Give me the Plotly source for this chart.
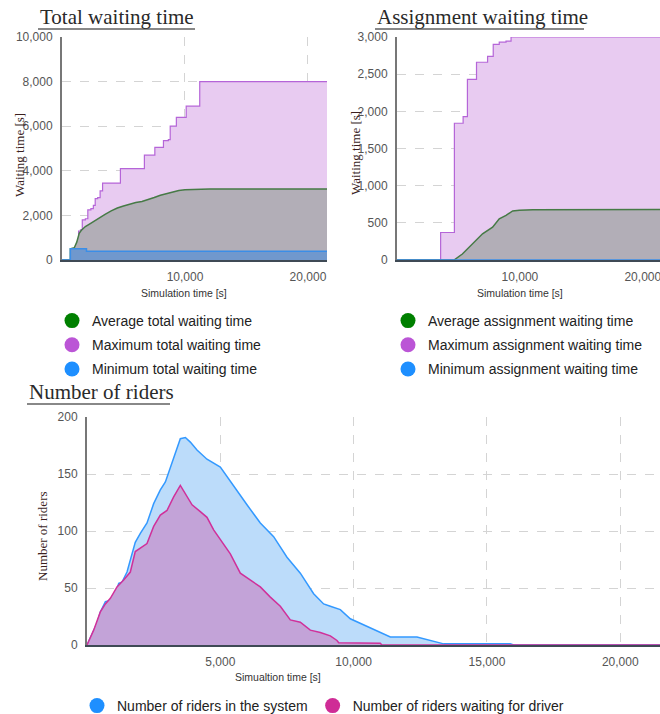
import plotly.graph_objects as go

W, H = 660, 714

# ---- Total waiting time [s] vs simulation time [s]
tot_max_t = [0, 1000, 1050, 1200, 1350, 1500, 1650, 1900, 2100, 2350, 2550, 2700, 2900, 3100, 3300,
             4600, 4750, 6600, 6700, 7400, 7550, 8100, 8250, 8650, 8800, 9300, 9950, 10100, 11000,
             11200, 21600]
tot_max_v = [0, 0, 500, 700, 1300, 1350, 1800, 1850, 2250, 2300, 2450, 2750, 2800, 3100, 3450,
             3450, 4100, 4100, 4700, 4700, 5050, 5050, 5350, 5400, 6000, 6400, 6400, 6900, 6900,
             8000, 8000]
tot_avg_t = [0, 680, 680, 1000, 1200, 1400, 1600, 1900, 2200, 2600, 3000, 3500, 4000, 4500, 5000,
             5500, 6000, 6500, 7000, 7500, 8000, 8500, 9000, 9500, 10000, 11000, 12000, 21600]
tot_avg_v = [0, 0, 500, 550, 800, 1200, 1350, 1500, 1600, 1750, 1900, 2050, 2200, 2330, 2420,
             2500, 2580, 2620, 2700, 2800, 2900, 2980, 3060, 3120, 3150, 3170, 3180, 3180]
tot_min_t = [0, 680, 1990, 21600]
tot_min_v = [0, 500, 390, 390]

# ---- Assignment waiting time [s]
asg_max_t = [0, 3550, 4670, 5380, 5730, 6470, 7370, 7830, 8320, 8870, 9280, 21600]
asg_max_v = [0, 370, 1840, 1930, 2430, 2660, 2740, 2900, 2930, 2945, 3000, 3000]
asg_avg_t = [0, 4640, 5320, 6140, 6960, 7780, 8320, 8870, 9410, 9960, 11050, 21600]
asg_avg_v = [0, 0, 80, 217, 352, 442, 555, 600, 660, 668, 677, 680]
asg_min_t = [0, 21600]
asg_min_v = [0, 0]

# ---- Number of riders
sys_t = [0, 190, 375, 500, 690, 875, 1060, 1190, 1310, 1500, 1690, 1810, 2000, 2250, 2500, 2750,
         2940, 3125, 3310, 3500, 3690, 3875, 4125, 4500, 5000, 5500, 6000, 6500, 7000, 7500, 8000,
         8500, 8875, 9125, 9500, 9875, 10375, 10875, 11375, 12375, 12875, 13375, 15875, 16000, 21600]
sys_v = [0, 10, 19, 29, 38, 39, 45, 54, 55, 64, 80, 90, 98, 107, 124, 136,
         143, 156, 169, 181, 182, 178, 171, 163, 156, 139, 123, 107, 95, 77, 63,
         45, 36, 34, 31, 23, 17.5, 12, 7, 7, 4, 1, 1, 0, 0]
wait_t = [0, 250, 500, 690, 875, 1125, 1375, 1625, 1810, 2000, 2250, 2500, 2750, 3000, 3250, 3500,
          3750, 3940, 4250, 4500, 4750, 5000, 5375, 5750, 6125, 6500, 6875, 7250, 7625, 8000, 8375,
          8750, 9125, 9375, 9440, 11000, 11060, 21600]
wait_v = [0, 13, 29, 36, 41, 51, 57, 64, 82, 85, 89, 104, 114, 118, 130, 140,
          130, 123, 117, 112, 101, 93, 80, 63, 57, 51, 42, 34, 22, 20, 13,
          11, 8, 4, 2, 1.5, 0, 0]

GREEN, PURPLE, BLUE, PINK = "#008000", "#bb55d6", "#1e8fff", "#cf2c96"
SANS = "Arial, 'Liberation Sans', sans-serif"
SERIF = "'Liberation Serif', 'DejaVu Serif', serif"


def px(x):
    return x / W


def py(y):
    return 1 - y / H


fig = go.Figure()


def area(x, y, xa, ya, line_col, fill_col, shape="linear", width=1.5):
    fig.add_trace(go.Scatter(x=x, y=y, xaxis=xa, yaxis=ya, mode="lines", fill="tozeroy",
                             line=dict(color=line_col, width=width, shape=shape),
                             fillcolor=fill_col, showlegend=False, hoverinfo="skip"))


# total waiting
area(tot_max_t, tot_max_v, "x", "y", "#b565d8", "#e8cbf1", "hv", 1.2)
area(tot_avg_t, tot_avg_v, "x", "y", "#467a46", "#b2aeb7")
area(tot_min_t, tot_min_v, "x", "y", "#3a8ee8", "#7098cd", "hv")
# assignment waiting
area(asg_max_t, asg_max_v, "x2", "y2", "#b565d8", "#e8cbf1", "hv", 1.2)
area(asg_avg_t, asg_avg_v, "x2", "y2", "#467a46", "#b2aeb7")
area(asg_min_t, asg_min_v, "x2", "y2", "#3a8ee8", "#7098cd", "hv")
# riders
area(sys_t, sys_v, "x3", "y3", "#3399ff", "#bcdcfa")
area(wait_t, wait_v, "x3", "y3", "#d0309a", "#c3a3d8")


# legend entries
def leg(name, color, legend, rank):
    fig.add_trace(go.Scatter(x=[None], y=[None], mode="markers", name=name,
                             marker=dict(color=color, size=15, symbol="circle"),
                             legend=legend, legendgroup=name, legendrank=rank))


leg("Average total waiting time", GREEN, "legend", 1)
leg("Maximum total waiting time", PURPLE, "legend", 2)
leg("Minimum total waiting time", BLUE, "legend", 3)
leg("Average assignment waiting time", GREEN, "legend2", 1)
leg("Maximum assignment waiting time", PURPLE, "legend2", 2)
leg("Minimum assignment waiting time", BLUE, "legend2", 3)
leg("Number of riders in the system", BLUE, "legend3", 1)
leg("Number of riders waiting for driver", PINK, "legend3", 2)

legfont = dict(family=SANS, size=14, color="#222")
legcommon = dict(font=legfont, bgcolor="rgba(0,0,0,0)", itemsizing="trace",
                 traceorder="grouped", tracegroupgap=3, xanchor="left")

axis_common = dict(showgrid=True, gridcolor="#d4d4d4", griddash="dash", gridwidth=1,
                   zeroline=False, ticks="", tickfont=dict(family=SANS, size=12, color="#555"),
                   ticklabelstandoff=5, ticklabeloverflow="allow", fixedrange=True)

fig.update_layout(
    width=W, height=H, autosize=False,
    margin=dict(l=0, r=0, t=0, b=0, autoexpand=False),
    paper_bgcolor="white", plot_bgcolor="white",
    xaxis=dict(domain=[px(62), px(327)], range=[0, 21550], tickvals=[10000, 20000],
               tickformat=",", anchor="y", showline=True, linecolor="#3f4a55", linewidth=2,
               **axis_common),
    yaxis=dict(domain=[py(260), py(37)], range=[0, 10000], tickvals=list(range(0, 10001, 2000)),
               tickformat=",", anchor="x", showline=True, linecolor="#777", linewidth=2,
               **axis_common),
    xaxis2=dict(domain=[px(397), 1.0], range=[0, 21400], tickvals=[10000, 20000],
                tickformat=",", anchor="y2", showline=True, linecolor="#3f4a55", linewidth=2,
                **axis_common),
    yaxis2=dict(domain=[py(260), py(37)], range=[0, 3000], tickvals=list(range(0, 3001, 500)),
                tickformat=",", anchor="x2", showline=True, linecolor="#777", linewidth=2,
                **axis_common),
    xaxis3=dict(domain=[px(87), 1.0], range=[0, 21490], tickvals=[5000, 10000, 15000, 20000],
                tickformat=",", anchor="y3", showline=True, linecolor="#3f4a55", linewidth=2,
                **axis_common),
    yaxis3=dict(domain=[py(645), py(417)], range=[0, 200], tickvals=[0, 50, 100, 150, 200],
                anchor="x3", showline=True, linecolor="#777", linewidth=2, **axis_common),
    legend=dict(x=px(52), y=py(305), yanchor="top", **legcommon),
    legend2=dict(x=px(388), y=py(305), yanchor="top", **legcommon),
    legend3=dict(x=px(77), y=py(706), yanchor="middle", orientation="h", **legcommon),
)

# panel titles with underline
titles = [("Total waiting time", 38, 195, 17), ("Assignment waiting time", 375, 584, 17),
          ("Number of riders", 27, 170, 392)]
for txt, x0, x1, ty in titles:
    fig.add_annotation(text=txt, x=px(x0), y=py(ty), xref="paper", yref="paper",
                       xanchor="left", yanchor="middle", showarrow=False,
                       font=dict(family=SERIF, size=21, color="#2a2a2a"))
    fig.add_shape(type="line", xref="paper", yref="paper", x0=px(x0), x1=px(x1),
                  y0=py(ty + 12), y1=py(ty + 12), line=dict(color="#888", width=2))

# axis titles
ytitles = [("Waiting time [s]", 19, 155), ("Waiting time [s]", 355, 153),
           ("Number of riders", 42, 536)]
for txt, x, y in ytitles:
    fig.add_annotation(text=txt, x=px(x), y=py(y), xref="paper", yref="paper",
                       xanchor="center", yanchor="middle", textangle=-90, showarrow=False,
                       font=dict(family=SERIF, size=13, color="#3b1f1f"))

xtitles = [("Simulation time [s]", 184, 293), ("Simulation time [s]", 520, 293),
           ("Simualtion time [s]", 278, 677)]
for txt, x, y in xtitles:
    fig.add_annotation(text=txt, x=px(x), y=py(y), xref="paper", yref="paper",
                       xanchor="center", yanchor="middle", showarrow=False,
                       font=dict(family=SANS, size=10.5, color="#333"))

fig.write_html("out.html")
